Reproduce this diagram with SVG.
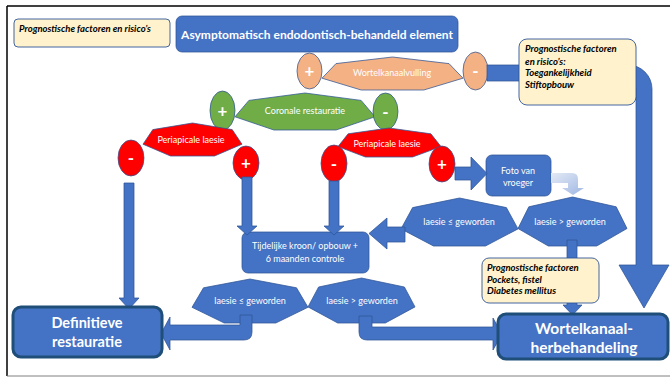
<svg xmlns="http://www.w3.org/2000/svg" width="670" height="379" viewBox="0 0 670 379">
  <defs>
    <linearGradient id="fadeArrow" x1="0" y1="0" x2="1" y2="1">
      <stop offset="0" stop-color="#E4EAF6"/>
      <stop offset="1" stop-color="#9FB7E3"/>
    </linearGradient>
  </defs>
  <style>
    .blue { fill: #4472C4; stroke: #2F5597; stroke-width: 0.75; }
    .peach { fill: #F4B183; stroke: #2F5597; stroke-width: 0.75; }
    .green { fill: #70AD47; stroke: #2F5597; stroke-width: 0.75; }
    .red { fill: #FF0000; stroke: #2F5597; stroke-width: 0.75; }
    .note { fill: #FFF2CC; stroke: #2F5597; stroke-width: 0.9; }
    .final { fill: #4472C4; stroke: #1F4E79; stroke-width: 3; }
    .arrow { fill: #4472C4; stroke: #2F5597; stroke-width: 0.75; }
    text { font-family: Lato, "Liberation Sans", sans-serif; }
    .lbl { fill: #FFFFFF; font-size: 9px; text-anchor: middle; }
    .sign { fill: #FFFFFF; font-size: 17px; font-weight: bold; text-anchor: middle; }
    .notetxt { fill: #000000; font-size: 9.5px; font-weight: bold; font-style: italic; }
    .big { fill: #FFFFFF; font-weight: bold; text-anchor: middle; }
  </style>

  <!-- frame -->
  <g id="frame">
    <line x1="7" y1="6" x2="670" y2="6" stroke="#000" stroke-width="1.5"/>
    <line x1="7" y1="6" x2="7" y2="376" stroke="#000" stroke-width="1.5"/>
    <line x1="7" y1="376" x2="670" y2="376" stroke="#808080" stroke-width="1"/>
  </g>

  <!-- decision shapes and boxes -->
  <g id="title">
    <rect x="176" y="16" width="282" height="36" rx="6" class="blue"/>
    <text x="317" y="39" class="big" font-size="12">Asymptomatisch endodontisch-behandeld element</text>
  </g>

  <g id="wortelkanaalvulling">
    <polygon class="peach" points="392.5,57 449,63.6 463,78.2 423.8,90 361.2,90 322,78.2 336,63.6"/>
    <text x="392" y="76" class="lbl">Wortelkanaalvulling</text>
  </g>
  <g id="wkv-plus">
    <ellipse cx="309.5" cy="71" rx="12.5" ry="18" class="peach"/>
    <text x="309.5" y="77" class="sign">+</text>
  </g>
  <g id="wkv-minus">
    <ellipse cx="475.5" cy="71" rx="12.5" ry="19" class="peach"/>
    <text x="475.5" y="77" class="sign">-</text>
  </g>

  <g id="coronale-restauratie">
    <polygon class="green" points="305,93 361.1,100.4 375,116.8 336.1,130 273.9,130 235,116.8 248.9,100.4"/>
    <text x="305" y="114" class="lbl">Coronale restauratie</text>
  </g>
  <g id="cr-plus">
    <ellipse cx="222.5" cy="110.5" rx="12.5" ry="19.5" class="green"/>
    <text x="222.5" y="116.5" class="sign">+</text>
  </g>
  <g id="cr-minus">
    <ellipse cx="385.5" cy="111.5" rx="12.5" ry="18.5" class="green"/>
    <text x="385.5" y="117.5" class="sign">-</text>
  </g>

  <g id="periapicale-links">
    <polygon class="red" points="192.5,123 232.2,129.6 242,144.2 214.5,156 170.5,156 143,144.2 152.8,129.6"/>
    <text x="191" y="143" class="lbl">Periapicale laesie</text>
  </g>
  <g id="pl-links-min">
    <ellipse cx="131" cy="158" rx="13" ry="18" class="red"/>
    <text x="131" y="164" class="sign">-</text>
  </g>
  <g id="pl-links-plus">
    <ellipse cx="246" cy="163" rx="13" ry="17" class="red"/>
    <text x="246" y="169" class="sign">+</text>
  </g>

  <g id="periapicale-midden">
    <polygon class="red" points="389,128 430.9,133.8 441,146.6 412.6,157 365.4,157 338,146.6 348.1,133.8"/>
    <text x="387" y="147" class="lbl">Periapicale laesie</text>
  </g>
  <g id="pl-midden-min">
    <ellipse cx="334" cy="163.5" rx="13" ry="18.5" class="red"/>
    <text x="334" y="169.5" class="sign">-</text>
  </g>
  <g id="pl-midden-plus">
    <ellipse cx="442" cy="164" rx="13" ry="18" class="red"/>
    <text x="442" y="170" class="sign">+</text>
  </g>

  <g id="foto-van-vroeger">
    <rect x="486" y="155" width="65" height="41" rx="6" class="blue"/>
    <text x="518" y="174" class="lbl">Foto van</text>
    <text x="518" y="186" class="lbl">vroeger</text>
  </g>

  <g id="laesie-kleiner-boven">
    <polygon class="blue" points="459.5,198 506.4,207.6 518,228.9 485.5,246 433.5,246 401,228.9 412.6,207.6"/>
    <text x="459" y="225" class="lbl">laesie ≤ geworden</text>
  </g>
  <g id="laesie-groter-boven">
    <polygon class="blue" points="572.5,197 616.2,206.8 627,228.5 596.7,246 548.3,246 518,228.5 528.8,206.8"/>
    <text x="570" y="225" class="lbl">laesie &gt; geworden</text>
  </g>

  <g id="tijdelijke-kroon">
    <rect x="242" y="232" width="127" height="41" rx="6" class="blue"/>
    <text x="305" y="249" class="lbl">Tijdelijke kroon/ opbouw +</text>
    <text x="305" y="262" class="lbl">6 maanden controle</text>
  </g>

  <g id="laesie-kleiner-onder">
    <polygon class="blue" points="250,279 296.5,287.8 308,307.3 275.8,323 224.2,323 192,307.3 203.5,287.8"/>
    <text x="250" y="304" class="lbl">laesie ≤ geworden</text>
  </g>
  <g id="laesie-groter-onder">
    <polygon class="blue" points="361.5,278 404.4,287 415,306.9 385.3,323 337.7,323 308,306.9 318.6,287"/>
    <text x="362" y="304" class="lbl">laesie &gt; geworden</text>
  </g>

  <!-- connectors -->
  <g id="connectors">
    <!-- negative root-canal filling: bar running right and down to retreatment -->
    <path class="arrow" d="M487,65 H628 A24,24 0 0 1 652,89 V265 H669 L644,308 L619,265 H636 V89 A8,8 0 0 0 628,81 H487 Z"/>
    <!-- down arrows into the temporary crown -->
    <path class="arrow" d="M242,177 H252 V226 H257 L247,235 L237,226 H242 Z"/>
    <path class="arrow" d="M329,181 H339 V226 H344 L334,235 L324,226 H329 Z"/>
    <!-- negative lesion down to definitive restoration -->
    <path class="arrow" d="M124,183 H134 V298 H139 L129,309 L119,298 H124 Z"/>
    <!-- positive lesion right to old photo -->
    <path class="arrow" d="M455,167 H471 V157 L487,173.5 L471,190 V180 H455 Z"/>
    <!-- photo down to the comparison -->
    <path fill="url(#fadeArrow)" d="M551,173 H572 Q578,173 578,179 V188 H584 L573,195 L562,188 H568 V183 H551 Z"/>
    <!-- lesion smaller: back to temporary crown -->
    <path class="arrow" d="M405,227 H387 V218 L369,233.5 L387,249 V242 H405 Z"/>
    <!-- lesion larger: down to retreatment -->
    <path class="arrow" d="M567,240 H577 V305 H582 L572.5,315 L563,305 H567 Z"/>
    <!-- lower decisions -->
    <path class="arrow" d="M240,315 H252 V332 Q252,340 244,340 H170 V350 L161,333.5 L170,317 V325 H240 Z"/>
    <path class="arrow" d="M359,316 H372 V327 H493 V318 L502,334 L493,350 V340 H367 Q359,340 359,332 Z"/>
  </g>

  <!-- notes -->
  <g id="factoren-legenda">
    <rect x="14" y="19" width="156" height="28" rx="4" class="note"/>
    <text x="19" y="32" class="notetxt">Prognostische factoren en risico’s</text>
  </g>
  <g id="factoren-boven">
    <rect x="519" y="39" width="117" height="66" rx="8" class="note"/>
    <text x="525" y="52" class="notetxt">Prognostische factoren</text>
    <text x="525" y="64.5" class="notetxt">en risico’s:</text>
    <text x="525" y="76" class="notetxt">Toegankelijkheid</text>
    <text x="525" y="87.5" class="notetxt">Stiftopbouw</text>
  </g>
  <g id="factoren-onder">
    <rect x="482" y="258" width="117" height="45" rx="7" class="note"/>
    <text x="487" y="271" class="notetxt">Prognostische factoren</text>
    <text x="487" y="282.5" class="notetxt">Pockets, fistel</text>
    <text x="487" y="294" class="notetxt">Diabetes mellitus</text>
  </g>

  <!-- outcomes -->
  <g id="definitieve-restauratie">
    <rect x="13" y="307" width="149" height="50" rx="8" class="final"/>
    <text x="87" y="328" class="big" font-size="14.5">Definitieve</text>
    <text x="87" y="347" class="big" font-size="14.5">restauratie</text>
  </g>
  <g id="wortelkanaal-herbehandeling">
    <rect x="498" y="314" width="170" height="45" rx="8" class="final"/>
    <text x="584" y="333.5" class="big" font-size="15.5">Wortelkanaal-</text>
    <text x="584" y="352.5" class="big" font-size="15.5">herbehandeling</text>
  </g>
</svg>
